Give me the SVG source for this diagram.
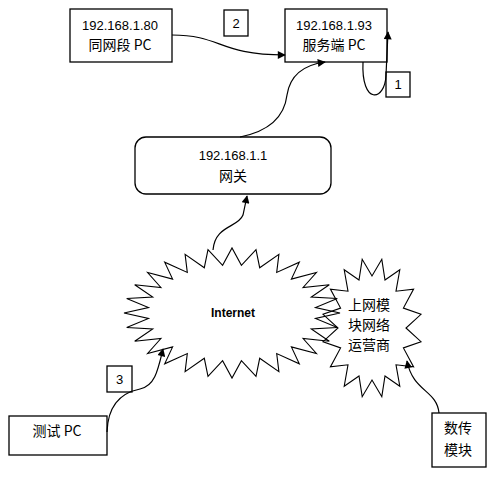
<svg xmlns="http://www.w3.org/2000/svg" width="492" height="477" viewBox="0 0 492 477">
<style>
.box{fill:#fff;stroke:#000;stroke-width:1.3}
.t{font-family:"Liberation Sans","Noto Sans CJK SC",sans-serif;font-size:13px;fill:#000;text-anchor:middle}
.c{font-family:"Noto Sans CJK SC","Liberation Sans",sans-serif;font-size:14px;fill:#000;text-anchor:middle}
.burst{stroke:#000;stroke-width:1.1;stroke-linejoin:miter}
.conn{fill:none;stroke:#000;stroke-width:1.2;marker-end:url(#ah)}
</style>
<defs>
<marker id="ah" viewBox="0 0 10 10" refX="9" refY="5" markerWidth="9" markerHeight="8" markerUnits="userSpaceOnUse" orient="auto">
<path d="M0,0 L10,5 L0,10 Z" fill="#000"/>
</marker>
</defs>
<rect width="492" height="477" fill="#fff"/>
<g id="internet">
<polygon class="burst" fill="#fff" points="340,313 315.5,318.4 337.3,327.5 311.3,328.9 329.3,341.2 303.1,338.5 316.4,353.5 291.4,346.9 299.3,363.8 276.7,353.6 278.9,371.6 259.7,358.3 256,376.4 241.4,360.7 232,378 222.6,360.7 208,376.4 204.3,358.3 185.1,371.6 187.3,353.6 164.7,363.8 172.6,346.9 147.6,353.5 160.9,338.5 134.7,341.2 152.7,328.9 126.7,327.5 148.5,318.4 124,313 148.5,307.6 126.7,298.5 152.7,297.1 134.7,284.8 160.9,287.5 147.6,272.5 172.6,279.1 164.7,262.2 187.3,272.4 185.1,254.4 204.3,267.7 208,249.6 222.6,265.3 232,248 241.4,265.3 256,249.6 259.7,267.7 278.9,254.4 276.7,272.4 299.3,262.2 291.4,279.1 316.4,272.5 303.1,287.5 329.3,284.8 311.3,297.1 337.3,298.5 315.5,307.6"/>
<text x="233" y="317" class="t" style="font-weight:bold;font-size:12px">Internet</text>
</g>
<g id="operator">
<polygon class="burst" fill="none" points="406,328 421,341.7 403.4,347.9 413.6,366.9 396,364.8 399.8,386.2 385,376 381.8,396.7 372,380 362.2,396.7 359,376 344.2,386.2 348,364.8 330.4,366.9 340.6,347.9 323,341.7 338,328 323,314.3 340.6,308.1 330.4,289.1 348,291.2 344.2,269.8 359,280 362.2,259.3 372,276 381.8,259.3 385,280 399.8,269.8 396,291.2 413.6,289.1 403.4,308.1 421,314.3"/>
<text x="369" y="310" class="c">上网模</text>
<text x="369" y="330" class="c">块网络</text>
<text x="369" y="350" class="c">运营商</text>
</g>
<g id="pc80">
<rect class="box" x="70" y="9" width="102" height="53"/>
<text x="120" y="30" class="t">192.168.1.80</text>
<text x="120" y="50" class="c">同网段 PC</text>
</g>
<g id="server">
<rect class="box" x="285" y="9" width="102" height="53"/>
<text x="334" y="30" class="t">192.168.1.93</text>
<text x="334" y="50" class="c">服务端 PC</text>
</g>
<g id="gateway">
<rect class="box" x="135" y="137" width="196" height="57" rx="11"/>
<text x="233" y="160" class="t">192.168.1.1</text>
<text x="233" y="181" class="c">网关</text>
</g>
<g id="testpc">
<rect class="box" x="9" y="416" width="98" height="39"/>
<text x="57" y="436" class="c">测试 PC</text>
</g>
<g id="dtu">
<rect class="box" x="432" y="413" width="54" height="54"/>
<text x="458" y="433" class="c">数传</text>
<text x="458" y="455" class="c">模块</text>
</g>
<g id="label2">
<rect class="box" x="224" y="10" width="24" height="26"/>
<text x="236" y="28" class="t">2</text>
</g>
<g id="label1">
<rect class="box" x="386" y="72" width="24" height="25"/>
<text x="398" y="89" class="t">1</text>
</g>
<g id="label3">
<rect class="box" x="107" y="366" width="25" height="26"/>
<text x="119.5" y="384" class="t">3</text>
</g>
<g id="connectors">
<path class="conn" d="M172,35 C222,35 218,55 285,55"/>
<path class="conn" d="M240,137 C275,130 285,112 287,95 C290,75 303,65 325,62"/>
<path class="conn" d="M363,62 C361,105 385,102 386,75 L388,32"/>
<path class="conn" d="M213,250 C215,225 238,228 243,215 L247,196"/>
<path class="conn" d="M107,432 C108,402 125,392 140,389 C155,386 158,370 163,349"/>
<path class="conn" d="M439,413 C437,390 413,392 407,361"/>
</g>
</svg>
